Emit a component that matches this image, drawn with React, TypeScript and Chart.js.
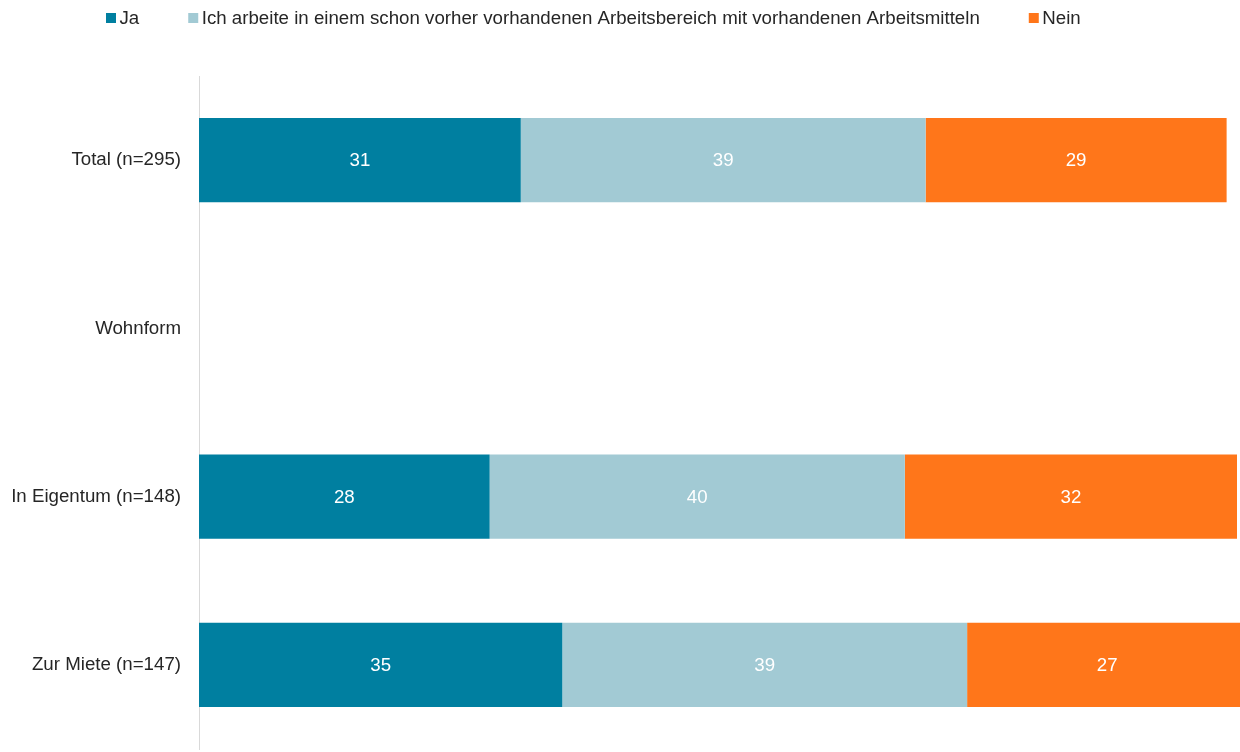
import React, { useEffect, useRef } from "react";
import { Chart, registerables } from "chart.js";

Chart.register(...registerables);

const categories = ["Total (n=295)", "Wohnform", "In Eigentum (n=148)", "Zur Miete (n=147)"];
const seriesNames = [
  "Ja",
  "Ich arbeite in einem schon vorher vorhandenen Arbeitsbereich mit vorhandenen Arbeitsmitteln",
  "Nein",
];
const jaValues = [31, null, 28, 35];
const vorhandenValues = [39, null, 40, 39];
const neinValues = [29, null, 32, 27];
const seriesColors = ["#007FA0", "#A2CAD4", "#FF761A"];

const FONT = '"Liberation Sans", Arial, sans-serif';
const FONT_SIZE = 18.7;
const TEXT_COLOR = "#262626";

const legendPlugin = {
  id: "customLegend",
  afterDraw(chart: any) {
    const ctx = chart.ctx;
    ctx.save();
    ctx.font = `${FONT_SIZE}px ${FONT}`;
    ctx.textBaseline = "middle";
    ctx.textAlign = "left";
    let x = 106;
    const y = 18;
    chart.data.datasets.forEach((ds: any) => {
      ctx.fillStyle = ds.backgroundColor;
      ctx.fillRect(x, y - 5, 10, 10);
      x += 13.5;
      ctx.fillStyle = TEXT_COLOR;
      ctx.fillText(ds.label, x, y + 1);
      x += ctx.measureText(ds.label).width + 49;
    });
    ctx.restore();
  },
};

const valueLabelPlugin = {
  id: "valueLabels",
  afterDatasetsDraw(chart: any) {
    const ctx = chart.ctx;
    ctx.save();
    ctx.font = `${FONT_SIZE}px ${FONT}`;
    ctx.fillStyle = "#FFFFFF";
    ctx.textAlign = "center";
    ctx.textBaseline = "middle";
    chart.data.datasets.forEach((ds: any, di: number) => {
      const meta = chart.getDatasetMeta(di);
      meta.data.forEach((el: any, i: number) => {
        const v = ds.data[i];
        if (v === null || v === undefined) return;
        const cx = (el.x + el.base) / 2;
        ctx.fillText(String(v), cx, el.y + 1);
      });
    });
    ctx.restore();
  },
};

export default function App() {
  const canvasRef = useRef<HTMLCanvasElement | null>(null);

  useEffect(() => {
    document.body.style.margin = "0";
    const canvas = canvasRef.current;
    if (!canvas) return;
    const valueSets = [jaValues, vorhandenValues, neinValues];
    const chart = new Chart(canvas, {
      type: "bar",
      data: {
        labels: categories,
        datasets: valueSets.map((vals, i) => ({
          label: seriesNames[i],
          data: vals,
          backgroundColor: seriesColors[i],
          borderWidth: 0,
          barPercentage: 0.5,
          categoryPercentage: 1,
          clip: false as any,
        })),
      },
      options: {
        indexAxis: "y",
        animation: false,
        responsive: false,
        devicePixelRatio: 1,
        layout: { padding: { top: 76, right: 3, bottom: 3, left: 0 } },
        plugins: {
          legend: { display: false },
          tooltip: { enabled: false },
        },
        scales: {
          x: {
            stacked: true,
            min: 0,
            max: 100,
            display: false,
          },
          y: {
            stacked: true,
            grid: { display: false, drawTicks: false },
            border: { display: true, color: "#D9D9D9", width: 1 },
            ticks: {
              color: TEXT_COLOR,
              font: { family: FONT, size: FONT_SIZE },
              padding: 18,
            },
            afterFit(scale: any) {
              scale.width = 199;
              scale.paddingTop = 0;
              scale.paddingBottom = 0;
            },
          },
        },
      },
      plugins: [legendPlugin, valueLabelPlugin],
    });
    return () => chart.destroy();
  }, []);

  return (
    <div style={{ width: 1240, height: 752 }}>
      <canvas ref={canvasRef} width={1240} height={752} style={{ display: "block", width: 1240, height: 752 }} />
    </div>
  );
}
